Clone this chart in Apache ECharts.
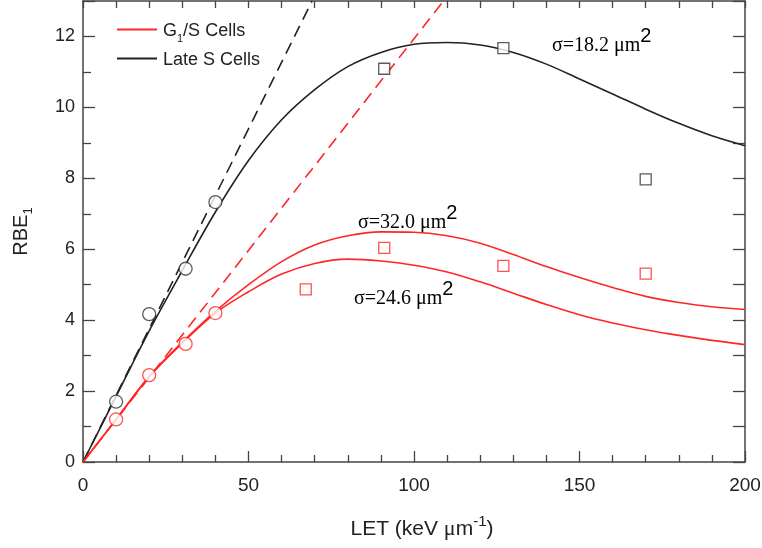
<!DOCTYPE html>
<html><head><meta charset="utf-8">
<script src="https://cdn.jsdelivr.net/npm/echarts@6/dist/echarts.min.js"></script>
<style>html,body{margin:0;padding:0;background:#fff}#c{width:762px;height:548px}</style>
</head><body><div id="c"></div>
<script>
// ---- data ----
const curveLET = [0,10,20,30,40,50,60,70,80,90,100,110,120,130,140,150,160,170,180,190,200];
const lateSFit = [0,1.85,3.7,5.4,7.05,8.5,9.65,10.5,11.15,11.55,11.78,11.83,11.76,11.55,11.22,10.8,10.38,9.95,9.55,9.2,8.92];
const g1sFit32 = [0,1.2,2.42,3.38,4.25,5.0,5.65,6.12,6.38,6.49,6.48,6.38,6.17,5.85,5.51,5.2,4.92,4.67,4.5,4.38,4.3];
const g1sFit246 = [0,1.2,2.4,3.35,4.2,4.8,5.3,5.6,5.72,5.67,5.55,5.36,5.08,4.76,4.44,4.15,3.92,3.73,3.57,3.43,3.31];
const lateSDashLET = [0,69.2];
const lateSDashRBE = [0,13];
const g1sDashLET = [0,108.9];
const g1sDashRBE = [0,13];
const lateSCircleLET = [10,20,31,40];
const lateSCircleRBE = [1.7,4.17,5.45,7.33];
const lateSSquareLET = [91,127,170];
const lateSSquareRBE = [11.09,11.67,7.97];
const g1sCircleLET = [10,20,31,40];
const g1sCircleRBE = [1.2,2.45,3.33,4.2];
const g1sSquareLET = [67.3,91,127,170];
const g1sSquareRBE = [4.87,6.04,5.53,5.31];
const xTicks = {min:0, max:200, interval:50};
const yTicks = {min:0, max:13, interval:2};

const RED = '#ff2626';
const BLK = '#222222';
const AX = '#444444';
const pair = (xs, ys) => xs.map((x, i) => [x, ys[i]]);

const chart = echarts.init(document.getElementById('c'));
const sans = 'Liberation Sans, Arial, sans-serif';
const serif = 'Liberation Serif, Times New Roman, serif';

function xAx(pos, labels) {
  return {
    type: 'value', position: pos, min: xTicks.min, max: xTicks.max, interval: xTicks.interval,
    axisLine: {show: true, onZero: false, lineStyle: {color: AX, width: 1.5}},
    axisTick: {show: true, inside: true, length: labels ? 11 : 7, lineStyle: {color: AX, width: 1.3}},
    minorTick: {show: true, splitNumber: 5, length: 7, lineStyle: {color: AX, width: 1.3}},
    splitLine: {show: false}, minorSplitLine: {show: false},
    axisLabel: {show: labels, margin: 14, fontSize: 19, color: '#222', fontFamily: sans},
    name: labels ? '{a|LET (keV }{m|μ}{a|m}{s|-1}{a|)}' : '',
    nameLocation: 'middle', nameGap: 52,
    nameTextStyle: {padding: [0,0,0,16], rich: {
      a: {fontSize: 21, fontFamily: sans, color: '#222', lineHeight: 26, verticalAlign: 'bottom'},
      m: {fontSize: 22, fontFamily: serif, color: '#222', lineHeight: 26, verticalAlign: 'bottom'},
      s: {fontSize: 15, fontFamily: sans, color: '#222', lineHeight: 26, verticalAlign: 'top', padding: [0,0,8,0]}
    }}
  };
}
function yAx(pos, labels) {
  return {
    type: 'value', position: pos, min: yTicks.min, max: yTicks.max, interval: yTicks.interval,
    axisLine: {show: true, onZero: false, lineStyle: {color: AX, width: 1.5}},
    axisTick: {show: true, inside: true, length: 12, lineStyle: {color: AX, width: 1.3}},
    minorTick: {show: true, splitNumber: 2, length: labels ? 8 : 12, lineStyle: {color: AX, width: 1.3}},
    splitLine: {show: false}, minorSplitLine: {show: false},
    axisLabel: {show: labels, margin: 8, fontSize: 18, color: '#222', fontFamily: sans,
      formatter: v => (v > 12 ? '' : v)},
    name: labels ? '{a|RBE}{s|1}' : '',
    nameLocation: 'middle', nameGap: 52,
    nameTextStyle: {rich: {
      a: {fontSize: 20, fontFamily: sans, color: '#222', lineHeight: 24, verticalAlign: 'bottom'},
      s: {fontSize: 13, fontFamily: sans, color: '#222', lineHeight: 24, verticalAlign: 'bottom', padding: [0,0,-4,0]}
    }}
  };
}

const lineS = (name, data, color, dashed, z) => ({
  name, type: 'line', data, smooth: dashed ? false : 0.35, showSymbol: false, symbol: 'none',
  color, lineStyle: {color, width: 1.6, type: dashed ? [12, 7] : 'solid'},
  clip: true, z, silent: true
});
const dots = (name, data, sym, color) => ({
  name, type: 'scatter', data, symbol: sym, symbolSize: sym === 'rect' ? 11 : 13,
  itemStyle: {color: '#fff', borderColor: color, borderWidth: 1.3}, z: 5, silent: true
});

const serifRich = {
  t: {fontSize: 20, fontFamily: serif, color: '#111', lineHeight: 30, verticalAlign: 'bottom'},
  p: {fontSize: 20, fontFamily: sans, color: '#111', lineHeight: 18, verticalAlign: 'top'}
};

chart.setOption({
  animation: false,
  backgroundColor: '#fff',
  grid: {left: 83, right: 17, top: 1, bottom: 86, outerBoundsMode: 'none', containLabel: false},
  xAxis: [xAx('bottom', true), xAx('top', false)],
  yAxis: [yAx('left', true), yAx('right', false)],
  legend: {
    data: ['G1/S Cells', 'Late S Cells'], orient: 'vertical', left: 112, top: 17,
    itemWidth: 40, itemHeight: 2, itemGap: 7, icon: 'rect', selectedMode: false,
    formatter: n => n === 'G1/S Cells' ? '{a|G}{s|1}{a|/S Cells}' : '{a|Late S Cells}',
    textStyle: {padding: [0,0,0,1], rich: {
      a: {fontSize: 18, fontFamily: sans, color: '#222', lineHeight: 21, verticalAlign: 'bottom'},
      s: {fontSize: 11, fontFamily: sans, color: '#222', lineHeight: 21, verticalAlign: 'bottom', padding: [0,0,-4,0]}
    }}
  },
  graphic: [
    {type: 'text', left: 552, top: 26, style: {text: '{t|σ=18.2 μm}{p|2}', rich: serifRich}},
    {type: 'text', left: 358, top: 203, style: {text: '{t|σ=32.0 μm}{p|2}', rich: serifRich}},
    {type: 'text', left: 354, top: 279, style: {text: '{t|σ=24.6 μm}{p|2}', rich: serifRich}}
  ],
  series: [
    lineS('Late S Cells', pair(curveLET, lateSFit), BLK, false, 3),
    lineS('G1/S Cells', pair(curveLET, g1sFit32), RED, false, 3),
    lineS('G1/S σ=24.6', pair(curveLET, g1sFit246), RED, false, 3),
    lineS('Late S linear', pair(lateSDashLET, lateSDashRBE), BLK, true, 2),
    lineS('G1/S linear', pair(g1sDashLET, g1sDashRBE), RED, true, 2),
    dots('Late S low', pair(lateSCircleLET, lateSCircleRBE), 'circle', '#333'),
    dots('Late S high', pair(lateSSquareLET, lateSSquareRBE), 'rect', '#333'),
    dots('G1/S low', pair(g1sCircleLET, g1sCircleRBE), 'circle', RED),
    dots('G1/S high', pair(g1sSquareLET, g1sSquareRBE), 'rect', RED)
  ]
});
</script></body></html>
